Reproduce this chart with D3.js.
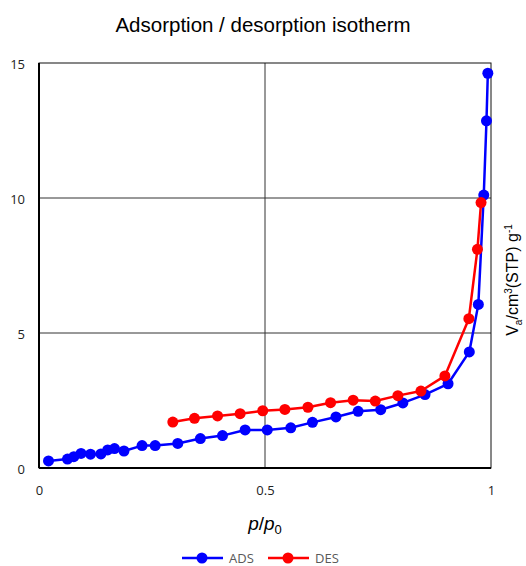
<!DOCTYPE html>
<html>
<head>
<meta charset="utf-8">
<script src="https://cdn.jsdelivr.net/npm/d3@7"></script>
<style>
  body { margin: 0; background: #fff; }
  svg { display: block; font-family: "Liberation Sans", Arial, sans-serif; }
</style>
</head>
<body>
<svg id="chart" width="526" height="566"></svg>
<script>
// adsorption branch
var adsX = [0.021, 0.063, 0.077, 0.093, 0.114, 0.137, 0.152, 0.167, 0.188, 0.228, 0.257, 0.307,
    0.357, 0.406, 0.456, 0.505, 0.557, 0.605, 0.657, 0.706, 0.756, 0.805, 0.854, 0.905, 0.952,
    0.972, 0.984, 0.990, 0.993];
var adsY = [0.26, 0.33, 0.42, 0.54, 0.51, 0.52, 0.67, 0.72, 0.63, 0.83, 0.83, 0.91,
    1.09, 1.20, 1.41, 1.41, 1.49, 1.69, 1.89, 2.10, 2.16, 2.41, 2.72, 3.12, 4.30,
    6.06, 10.11, 12.86, 14.62];
// desorption branch
var desX = [0.296, 0.344, 0.395, 0.445, 0.495, 0.544, 0.595, 0.645, 0.695, 0.744, 0.794, 0.845,
    0.898, 0.951, 0.970, 0.978];
var desY = [1.70, 1.84, 1.93, 2.01, 2.12, 2.17, 2.25, 2.42, 2.51, 2.48, 2.68, 2.85,
    3.41, 5.53, 8.10, 9.83];

var xTicks = [0, 0.5, 1];
var xTickLabels = ["0", "0.5", "1"];
var yTicks = [0, 5, 10, 15];

var series = [
    { name: "ADS", color: "#0000ff", xs: adsX, ys: adsY },
    { name: "DES", color: "#ff0000", xs: desX, ys: desY }
];

var margin = { top: 63, right: 35, bottom: 98, left: 39 };
var svg = d3.select("#chart");
var W = +svg.attr("width"), H = +svg.attr("height");
var w = W - margin.left - margin.right;
var h = H - margin.top - margin.bottom;

var x = d3.scaleLinear().domain([0, 1]).range([0, w]);
var y = d3.scaleLinear().domain([0, 15]).range([h, 0]);

var g = svg.append("g").attr("transform", "translate(" + margin.left + "," + margin.top + ")");

// grid
g.selectAll(".hgrid").data(yTicks.filter((d) => d > 0 && d < 15)).enter().append("line")
    .attr("x1", 0).attr("x2", w)
    .attr("y1", (d) => y(d)).attr("y2", (d) => y(d))
    .attr("stroke", "#333").attr("stroke-width", 1);
g.selectAll(".vgrid").data(xTicks.filter((d) => d > 0 && d < 1)).enter().append("line")
    .attr("x1", (d) => x(d)).attr("x2", (d) => x(d))
    .attr("y1", 0).attr("y2", h)
    .attr("stroke", "#333").attr("stroke-width", 1);

// frame
g.append("rect").attr("x", 0).attr("y", 0).attr("width", w).attr("height", h)
    .attr("fill", "none").attr("stroke", "#111").attr("stroke-width", 1);
g.append("line").attr("x1", 0).attr("x2", 0).attr("y1", 0).attr("y2", h)
    .attr("stroke", "#000").attr("stroke-width", 2);
g.append("line").attr("x1", 0).attr("x2", w).attr("y1", h).attr("y2", h)
    .attr("stroke", "#000").attr("stroke-width", 2);

// axes (labels only)
var xAxis = d3.axisBottom(x).tickValues(xTicks).tickFormat((d, i) => xTickLabels[i]).tickSize(0).tickPadding(18);
var gx = g.append("g").attr("transform", "translate(0," + h + ")").call(xAxis);
var yAxis = d3.axisLeft(y).tickValues(yTicks).tickSize(0).tickPadding(14);
var gy = g.append("g").call(yAxis);
[gx, gy].forEach(function (ax) {
    ax.select(".domain").remove();
    ax.selectAll("text").attr("font-size", 13).attr("fill", "#222")
        .attr("font-family", "'Open Sans', 'DejaVu Sans', sans-serif");
});
gy.selectAll("text").attr("dy", "0.4em");

// series
var line = d3.line().x((d) => x(d[0])).y((d) => y(d[1]));
series.forEach(function (s) {
    var pts = s.xs.map((v, i) => [v, s.ys[i]]);
    g.append("path").datum(pts).attr("d", line)
        .attr("fill", "none").attr("stroke", s.color).attr("stroke-width", 2.5)
        .attr("stroke-linejoin", "round");
    g.selectAll(".pt-" + s.name).data(pts).enter().append("circle")
        .attr("cx", (d) => x(d[0])).attr("cy", (d) => y(d[1])).attr("r", 5.5)
        .attr("fill", s.color);
});

// title
svg.append("text").attr("x", 263).attr("y", 32).attr("text-anchor", "middle")
    .attr("font-size", 20.5).attr("fill", "#000").text("Adsorption / desorption isotherm");

// x label
var xl = svg.append("text").attr("x", margin.left + x(0.5)).attr("y", 530).attr("text-anchor", "middle")
    .attr("font-size", 19).attr("fill", "#000");
xl.append("tspan").attr("font-style", "italic").text("p");
xl.append("tspan").text("/");
xl.append("tspan").attr("font-style", "italic").text("p");
xl.append("tspan").attr("font-size", 13).attr("dy", 4).text("0");

// y label on the right
var yl = svg.append("text").attr("transform", "translate(518,280) rotate(-90)")
    .attr("text-anchor", "middle").attr("font-size", 16).attr("fill", "#000");
yl.append("tspan").text("V");
yl.append("tspan").attr("font-size", 10).attr("dy", 4).text("a");
yl.append("tspan").attr("dy", -4).text("/cm");
yl.append("tspan").attr("font-size", 10).attr("dy", -6).text("3");
yl.append("tspan").attr("dy", 6).text("(STP) g");
yl.append("tspan").attr("font-size", 10).attr("dy", -6).text("-1");

// legend
var lg = svg.append("g").attr("transform", "translate(182,558)");
series.forEach(function (s, i) {
    var item = lg.append("g").attr("transform", "translate(" + (i * 86) + ",0)");
    item.append("line").attr("x1", 0).attr("x2", 41).attr("y1", 0).attr("y2", 0)
        .attr("stroke", s.color).attr("stroke-width", 2.5);
    item.append("circle").attr("cx", 20).attr("cy", 0).attr("r", 5.5).attr("fill", s.color);
    item.append("text").attr("x", 47).attr("y", 0).attr("dy", "0.35em")
        .attr("font-size", 13).attr("fill", "#595959")
        .attr("font-family", "'Open Sans', 'DejaVu Sans', sans-serif").text(s.name);
});
</script>
</body>
</html>
